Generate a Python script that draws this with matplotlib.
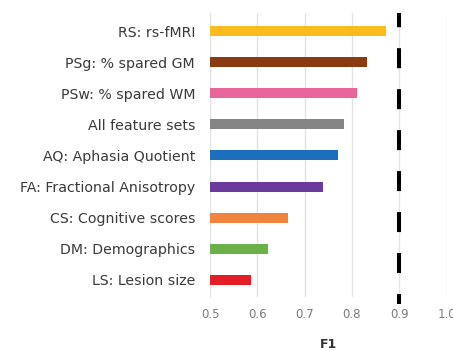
import matplotlib
matplotlib.use('Agg')
import matplotlib.pyplot as plt

plt.rcParams['font.family'] = ['DejaVu Sans']
plt.rcParams['lines.scale_dashes'] = False

# F1 score per feature set
labels = ['RS: rs-fMRI', 'PSg: % spared GM', 'PSw: % spared WM', 'All feature sets',
          'AQ: Aphasia Quotient', 'FA: Fractional Anisotropy', 'CS: Cognitive scores',
          'DM: Demographics', 'LS: Lesion size']
f1 = [0.872, 0.832, 0.811, 0.784, 0.771, 0.739, 0.665, 0.623, 0.587]
colors = ['#FBBA1E', '#8A3B12', '#E9669C', '#858585', '#1D6FBE',
          '#6A3A9C', '#F0843E', '#6CB04A', '#E41E26']
threshold = 0.9
ticks = [0.5, 0.6, 0.7, 0.8, 0.9, 1.0]

fig = plt.figure(figsize=(4.53, 3.51), dpi=100)
ax = fig.add_axes([0.4636, 0.1538, 0.5221, 0.8092])

pos = list(range(len(labels)))
base = ticks[0]
ax.barh(pos, [v - base for v in f1], left=base, height=0.32, color=colors, zorder=3)

# dashed threshold line, runs a little past the grid at the bottom
ax.axvline(threshold, ymin=-0.025, ymax=1.0, color='black', lw=2.9,
           linestyle=(7.2, (14.4, 15.1)), clip_on=False, zorder=4)

ax.set_xlim(0.5, 1.0)
ax.set_ylim(8.55, -0.58)
ax.set_xticks(ticks)
ax.set_xticklabels([f'{t:.1f}' for t in ticks])
ax.set_yticks(pos)
ax.set_yticklabels(labels)

ax.grid(axis='x', color='#e3e3e3', lw=1.0, zorder=0)
for s in ['top', 'right', 'bottom']:
    ax.spines[s].set_visible(False)
ax.spines['left'].set_color('#e3e3e3')

ax.tick_params(axis='y', length=0, pad=10.8, labelsize=10.2, labelcolor='#3a3a3a')
ax.tick_params(axis='x', length=0, pad=8, labelsize=8.5, labelcolor='#7a7a7a')
ax.set_xlabel('F1', fontsize=9, fontweight='bold', color='#333333', labelpad=12)

fig.savefig('out.png', dpi=100)
